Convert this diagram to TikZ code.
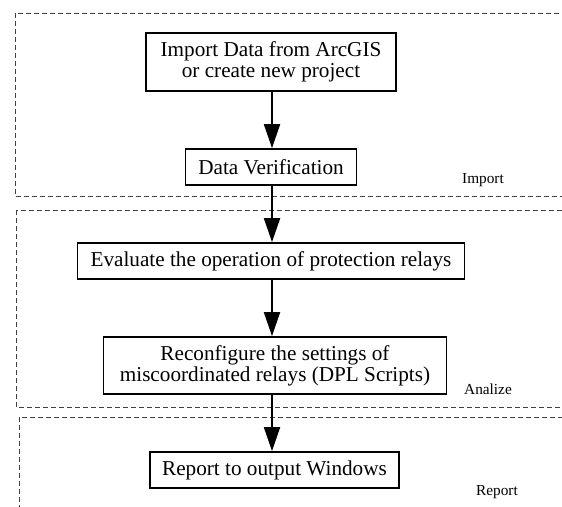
\documentclass[tikz,border=0pt]{standalone}
\usepackage{fontspec}
\setmainfont{Liberation Serif}
\usetikzlibrary{arrows.meta}
\begin{document}
\begin{tikzpicture}[x=1pt,y=-1pt,
  cluster/.style={draw=black!75, dashed, dash pattern=on 5pt off 3pt, line width=0.8pt},
  stepbox/.style={draw, line width=1.7pt, inner sep=0pt, font=\fontsize{21.2}{21.3}\selectfont, align=center},
  flow/.style={line width=1.8pt, -{Triangle[length=24pt,width=16pt]}},
  lbl/.style={font=\fontsize{15.3}{15}\selectfont, inner sep=0pt}]
\useasboundingbox (0,0) rectangle (562,506);
\clip (0,0) rectangle (562,506);
% clusters
\draw[cluster] (15,13) rectangle (600,196);
\draw[cluster] (16,210) rectangle (600,407);
\draw[cluster] (19,417) rectangle (600,540);
% nodes
\node[stepbox, minimum width=250pt, minimum height=58pt] (a) at (271,62) {Import Data from ArcGIS\\or create new project};
\node[stepbox, minimum width=171pt, minimum height=36pt] (b) at (271,167) {Data Verification};
\node[stepbox, minimum width=387pt, minimum height=36pt] (c) at (271,261) {Evaluate the operation of protection relays};
\node[stepbox, minimum width=343pt, minimum height=57pt] (d) at (275,365.5) {Reconfigure the settings of\\miscoordinated relays (DPL Scripts)};
\node[stepbox, minimum width=249pt, minimum height=36pt] (e) at (274.5,470) {Report to output Windows};
% labels
\node[lbl] (li) at (483,180) {Import};
\node[lbl] (la) at (488,389) {Analize};
\node[lbl] (lr) at (497,492) {Report};
% arrows
\draw[flow] (a.south -| 272,0) -- (b.north -| 272,0);
\draw[flow] (b.south -| 272,0) -- (c.north -| 272,0);
\draw[flow] (c.south -| 272,0) -- (d.north -| 272,0);
\draw[flow] (d.south -| 272,0) -- (e.north -| 272,0);
\end{tikzpicture}
\end{document}
